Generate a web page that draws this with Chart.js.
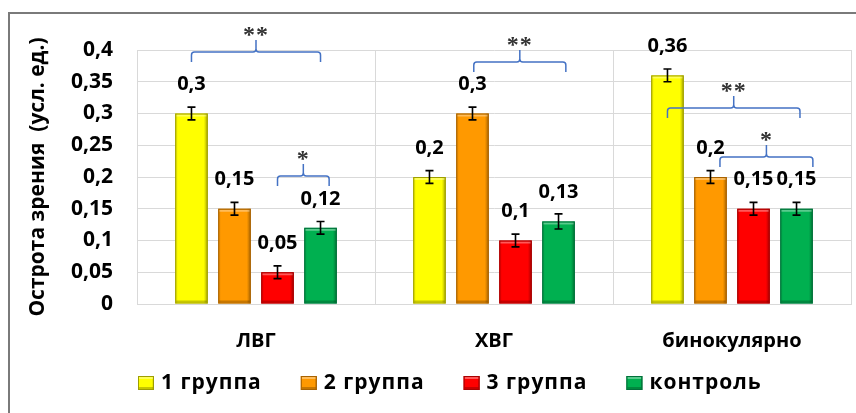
<!DOCTYPE html>
<html>
<head>
<meta charset="utf-8">
<script src="https://cdn.jsdelivr.net/npm/chart.js@4.4.0/dist/chart.umd.min.js"></script>
<style>
  html, body { margin: 0; padding: 0; background: #fff; }
  canvas { display: block; }
</style>
</head>
<body>
<canvas id="chart" width="856" height="413"></canvas>
<script>
// values
const categories = ['ЛВГ', 'ХВГ', 'бинокулярно'];
const seriesNames = ['1 группа', '2 группа', '3 группа', 'контроль'];
const group1 = [0.30, 0.20, 0.36];
const group2 = [0.15, 0.30, 0.20];
const group3 = [0.05, 0.10, 0.15];
const control = [0.12, 0.13, 0.15];
const err1 = [0.01, 0.01, 0.01];
const err2 = [0.01, 0.01, 0.01];
const err3 = [0.01, 0.01, 0.01];
const errControl = [0.01, 0.012, 0.01];
const yTicks = [0, 0.05, 0.1, 0.15, 0.2, 0.25, 0.3, 0.35, 0.4];

// significance brackets: category, bar index from/to, level in axis units
const brackets = [
  { cat: 0, from: 0, to: 3, y: 0.397, text: '**' },
  { cat: 0, from: 2, to: 3.2, y: 0.2016, text: '*' },
  { cat: 1, from: 1.03, to: 3.17, y: 0.381, text: '**' },
  { cat: 2, from: 0, to: 3.08, y: 0.3087, text: '**' },
  { cat: 2, from: 1.22, to: 3.38, y: 0.2315, text: '*' }
];

const fills = ['#FFFF00', '#FF9900', '#FF0000', '#00B050'];
const edges = ['#9E9E00', '#A86200', '#A80000', '#00703A'];
const FONT = '"Open Sans", "DejaVu Sans", sans-serif';

const fmt = v => String(Math.round(v * 100) / 100).replace('.', ',');

function bevel(ctx, x0, y0, w, h, fill, edge) {
  ctx.save();
  ctx.fillStyle = fill;
  ctx.fillRect(x0, y0, w, h);
  // left/right shading
  let g = ctx.createLinearGradient(x0, 0, x0 + w, 0);
  g.addColorStop(0, 'rgba(0,0,0,0.18)');
  g.addColorStop(0.08, 'rgba(0,0,0,0)');
  g.addColorStop(0.88, 'rgba(0,0,0,0)');
  g.addColorStop(1, 'rgba(0,0,0,0.35)');
  ctx.fillStyle = g;
  ctx.fillRect(x0, y0, w, h);
  // top highlight, bottom shadow
  ctx.fillStyle = 'rgba(255,255,255,0.35)';
  ctx.fillRect(x0 + 1, y0 + 1, w - 2, Math.min(2, h));
  ctx.fillStyle = 'rgba(0,0,0,0.22)';
  ctx.fillRect(x0 + 1, y0 + h - 3, w - 2, 2);
  ctx.strokeStyle = edge;
  ctx.lineWidth = 1;
  ctx.strokeRect(x0 + 0.5, y0 + 0.5, w - 1, h - 1);
  ctx.restore();
}

const decorPlugin = {
  id: 'decor',
  beforeDraw(chart) {
    const ctx = chart.ctx;
    ctx.save();
    ctx.fillStyle = '#fff';
    ctx.fillRect(0, 0, chart.width, chart.height);
    ctx.strokeStyle = '#7a7a7a';
    ctx.lineWidth = 2;
    ctx.beginPath();
    ctx.moveTo(9, chart.height);
    ctx.lineTo(9, 13);
    ctx.lineTo(chart.width, 13);
    ctx.stroke();
    ctx.restore();
  },
  afterDatasetsDraw(chart) {
    const ctx = chart.ctx;
    const yScale = chart.scales.y;
    const errs = [err1, err2, err3, errControl];
    chart.data.datasets.forEach((ds, di) => {
      const meta = chart.getDatasetMeta(di);
      meta.data.forEach((bar, i) => {
        const w = bar.width;
        bevel(ctx, bar.x - w / 2, bar.y, w, bar.base - bar.y, fills[di], edges[di]);
        // error bar
        const v = ds.data[i], e = errs[di][i];
        const yHi = yScale.getPixelForValue(v + e);
        const yLo = yScale.getPixelForValue(v - e);
        ctx.save();
        ctx.strokeStyle = '#000';
        ctx.lineWidth = 1.6;
        ctx.beginPath();
        ctx.moveTo(bar.x, yHi); ctx.lineTo(bar.x, yLo);
        ctx.moveTo(bar.x - 4, yHi); ctx.lineTo(bar.x + 4, yHi);
        ctx.moveTo(bar.x - 4, yLo); ctx.lineTo(bar.x + 4, yLo);
        ctx.stroke();
        // value label
        ctx.fillStyle = '#000';
        ctx.font = 'bold 20px ' + FONT;
        ctx.textAlign = 'center';
        ctx.textBaseline = 'middle';
        ctx.fillText(fmt(v), bar.x, bar.y - 29);
        ctx.restore();
      });
    });

    // brackets
    const m0 = chart.getDatasetMeta(0), m1 = chart.getDatasetMeta(1);
    ctx.save();
    brackets.forEach(b => {
      const pitch = m1.data[b.cat].x - m0.data[b.cat].x;
      const xa = m0.data[b.cat].x + b.from * pitch;
      const xb = m0.data[b.cat].x + b.to * pitch;
      const xm = (xa + xb) / 2;
      const y = yScale.getPixelForValue(b.y);
      const r = 3;
      ctx.strokeStyle = '#4472C4';
      ctx.lineWidth = 1.5;
      ctx.beginPath();
      ctx.moveTo(xa, y + 10);
      ctx.lineTo(xa, y + r);
      ctx.quadraticCurveTo(xa, y, xa + r, y);
      ctx.lineTo(xm - r, y);
      ctx.quadraticCurveTo(xm, y, xm, y - r);
      ctx.lineTo(xm, y - 12);
      ctx.moveTo(xm, y - r);
      ctx.quadraticCurveTo(xm, y, xm + r, y);
      ctx.lineTo(xb - r, y);
      ctx.quadraticCurveTo(xb, y, xb, y + r);
      ctx.lineTo(xb, y + 10);
      ctx.stroke();
      ctx.fillStyle = '#333';
      ctx.font = 'bold 24px "Liberation Serif", serif';
      ctx.textAlign = 'center';
      ctx.textBaseline = 'middle';
      ctx.letterSpacing = '1px';
      ctx.fillText(b.text, xm, y - 16);
    });
    ctx.restore();

    // legend
    const area = chart.chartArea;
    ctx.save();
    ctx.font = 'bold 21px ' + FONT;
    ctx.letterSpacing = '1px';
    ctx.textBaseline = 'middle';
    ctx.textAlign = 'left';
    let x = area.left + 1;
    const ly = 383;
    seriesNames.forEach((name, i) => {
      bevel(ctx, x, ly - 7, 16, 14, fills[i], edges[i]);
      x += 16 + 7;
      ctx.fillStyle = '#000';
      ctx.fillText(name, x, ly);
      x += ctx.measureText(name).width + 39;
    });
    ctx.restore();
  }
};

const transparent = 'rgba(0,0,0,0)';
const datasets = [group1, group2, group3, control].map((d, i) => ({
  label: seriesNames[i],
  data: d,
  backgroundColor: transparent,
  borderWidth: 0,
  categoryPercentage: 0.723,
  barPercentage: 0.756
}));

new Chart(document.getElementById('chart'), {
  type: 'bar',
  data: { labels: categories, datasets },
  plugins: [decorPlugin],
  options: {
    responsive: false,
    animation: false,
    layout: { padding: { top: 50, right: 5, left: 0, bottom: 0 } },
    plugins: {
      legend: { display: false },
      tooltip: { enabled: false }
    },
    scales: {
      x: {
        grid: { color: '#D9D9D9', drawTicks: false, offset: true },
        border: { color: '#D9D9D9' },
        ticks: { color: '#000', padding: 25, font: { family: FONT, size: 20, weight: 'bold' } },
        afterFit(s) { s.height = 109; }
      },
      y: {
        min: 0,
        max: 0.4,
        afterBuildTicks(s) { s.ticks = yTicks.map(v => ({ value: v })); },
        grid: { color: '#D9D9D9', drawTicks: false },
        border: { color: '#D9D9D9' },
        ticks: {
          color: '#000',
          padding: 24,
          font: { family: FONT, size: 21, weight: 'bold' },
          callback: v => fmt(v)
        },
        title: {
          display: true,
          text: 'Острота зрения  (усл. ед.)',
          color: '#000',
          padding: { top: 25, bottom: 0 },
          font: { family: FONT, size: 21, weight: 'bold' }
        },
        afterFit(s) { s.width = 137; }
      }
    }
  }
});
</script>
</body>
</html>
